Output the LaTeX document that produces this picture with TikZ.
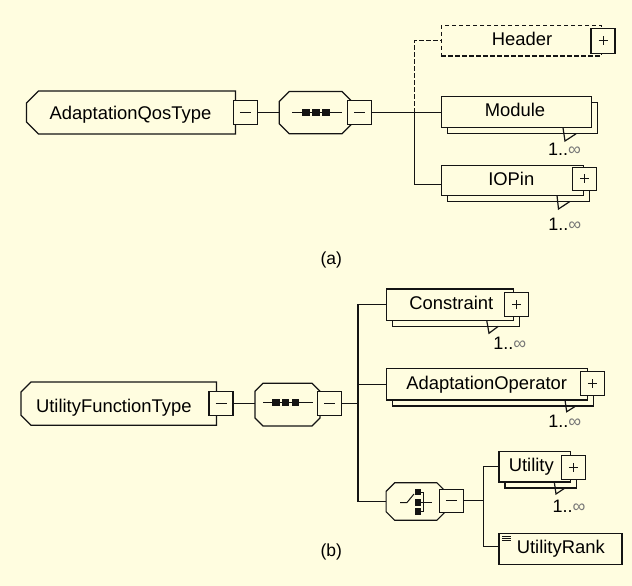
\documentclass[tikz,border=0pt]{standalone}
\usepackage{fontspec}
\setmainfont{Liberation Sans}
\usetikzlibrary{calc}
\definecolor{bg}{RGB}{255,253,224}
\definecolor{ln}{RGB}{20,20,20}
\definecolor{infc}{RGB}{120,120,120}
\newcommand{\plusmark}[1]{\draw[sign] ($(#1.center)+(-4.5,0)$) -- ($(#1.center)+(4.5,0)$) ($(#1.center)+(0,-4.5)$) -- ($(#1.center)+(0,4.5)$);}
\newcommand{\minusmark}[1]{\draw[sign] ($(#1.center)+(-5.5,0)$) -- ($(#1.center)+(5.5,0)$);}
\begin{document}
\begin{tikzpicture}[x=1pt,y=-1pt,
 every node/.style={inner sep=0pt,outer sep=0pt},
 elem/.style={draw=ln,line width=1.2pt,fill=bg},
 rbox/.style 2 args={elem,rectangle,minimum width=#1pt,minimum height=#2pt},
 minusbox/.style={rbox={24}{24}},
 hid/.style 2 args={rectangle,minimum width=#1pt,minimum height=#2pt},
 conn/.style={draw=ln,line width=1.2pt},
 sign/.style={draw=ln,line width=1pt},
 lbl/.style={anchor=base,font=\fontsize{18.4}{22}\selectfont},
 mult/.style={anchor=base west,font=\fontsize{18}{22}\selectfont},
 capt/.style={anchor=base,font=\fontsize{17.5}{21}\selectfont}]
\fill[bg] (0,0) rectangle (632,586);
\useasboundingbox (0,0) rectangle (632,586);

% ---------- (a) ----------
\draw[elem] (26.5,103) -- (38.5,91) -- (235.5,91) -- (235.5,134) -- (38.5,134) -- (26.5,122) -- cycle;
\node[hid={209}{43}] (aqt) at (131,112.5) {};
\node[lbl] (aqtT) at (130.5,119.3) {AdaptationQosType};
\node[minusbox] (aqtM) at (245.3,112.6) {};
\minusmark{aqtM}

\draw[elem] (289.3,91.5) -- (342,91.5) -- (352,101.5) -- (352,123.8) -- (342,133.8) -- (289.3,133.8) -- (279.3,123.8) -- (279.3,101.5) -- cycle;
\node[hid={72.7}{42.3}] (seqA) at (315.65,112.65) {};
\draw[sign] (292,112.6) -- (342,112.6);
\fill[ln] (302.4,108.9) rectangle (309.6,116.1);
\fill[ln] (312.4,108.9) rectangle (319.6,116.1);
\fill[ln] (322.4,108.9) rectangle (329.6,116.1);
\node[minusbox] (seqAM) at (359.5,112.6) {};
\minusmark{seqAM}

% Header
\node[rbox={160}{30.6},dash pattern=on 4.5pt off 2.5pt] (hdr) at (521.4,40.7) {};
\node[rbox={24}{25}] (hdrP) at (603,41) {};
\plusmark{hdrP}
\node[lbl] (hdrT) at (522,46) {Header};

% Module
\node[rbox={150.3}{31}] (modB) at (522.55,118.3) {};
\node[rbox={150.3}{31}] (modF) at (516.55,112.3) {};
\node[lbl] (modT) at (515,116) {Module};
\draw[conn] (563,127.8) -- (565,141) -- (576,133.8);
\node[mult] (modMl) at (548.2,155) {1..\textcolor{infc}{∞}};

% IOPin
\node[rbox={141.8}{29.9}] (ioB) at (518.3,186.45) {};
\node[rbox={141.8}{29.9}] (ioF) at (512.3,180.45) {};
\node[rbox={24}{23}] (ioP) at (584.5,178.6) {};
\plusmark{ioP}
\node[lbl] (ioT) at (511.3,185) {IOPin};
\draw[conn] (557,195.4) -- (558.5,209) -- (570,201.4);
\node[mult] (ioMl) at (548.3,230.7) {1..\textcolor{infc}{∞}};

% connectors (a)
\coordinate (busA) at (414.3,112.6);
\draw[conn] (aqtM.east) -- (seqA.west |- aqtM.east);
\draw[conn] (seqAM.east) -- (modF.west |- seqAM.east);
\draw[conn] (busA) |- ([yshift=-3.9pt]ioF.west);
\draw[conn,dash pattern=on 4.5pt off 2.5pt] (busA) |- (hdr.west);

\node[capt] (capA) at (331.3,264.7) {(a)};

% ---------- (b) ----------
\draw[elem] (21,392) -- (31,382) -- (216.4,382) -- (216.4,425.3) -- (31,425.3) -- (21,415.3) -- cycle;
\node[hid={195.4}{43.3}] (uft) at (118.7,403.65) {};
\node[lbl] (uftT) at (113.8,412.3) {UtilityFunctionType};
\node[minusbox] (uftM) at (221,403.8) {};
\minusmark{uftM}

\draw[elem] (263,383.3) -- (312,383.3) -- (320,391.3) -- (320,418) -- (312,426) -- (263,426) -- (255,418) -- (255,391.3) -- cycle;
\node[hid={65}{42.7}] (seqB) at (287.5,404.65) {};
\draw[sign] (263.3,402.8) -- (313.3,402.8);
\fill[ln] (272.4,399.2) rectangle (279.6,406.4);
\fill[ln] (282.1,399.2) rectangle (289.3,406.4);
\fill[ln] (291.8,399.2) rectangle (299,406.4);
\node[minusbox] (seqBM) at (329.5,403.8) {};
\minusmark{seqBM}

% Constraint
\node[rbox={127}{31.4}] (conB) at (455.6,310.6) {};
\node[rbox={127}{31.4}] (conF) at (449.6,304.6) {};
\node[rbox={24}{24}] (conP) at (516.7,304.7) {};
\plusmark{conP}
\node[lbl] (conT) at (451.3,309.3) {Constraint};
\draw[conn] (486.7,320.3) -- (489,333.3) -- (498.3,326.3);
\node[mult] (conMl) at (493.3,349.3) {1..\textcolor{infc}{∞}};

% AdaptationOperator
\node[rbox={201.2}{31.1}] (aopB) at (492.7,390.35) {};
\node[rbox={201.2}{31.1}] (aopF) at (486.7,384.35) {};
\node[rbox={24}{24}] (aopP) at (592.3,383.8) {};
\plusmark{aopP}
\node[lbl] (aopT) at (486.7,389.3) {AdaptationOperator};
\draw[conn] (565,399.9) -- (566.7,411.7) -- (576,405.9);
\node[mult] (aopMl) at (548.3,427.3) {1..\textcolor{infc}{∞}};

% choice
\draw[elem] (394.6,482.8) -- (436.9,482.8) -- (445.4,491.3) -- (445.4,511.7) -- (436.9,520.2) -- (394.6,520.2) -- (386.1,511.7) -- (386.1,491.3) -- cycle;
\node[hid={59.3}{37.4}] (choice) at (415.75,501.5) {};
\draw[sign] (400,502.5) -- (407,502.5) -- (414,494);
\fill[ln] (414.8,488.8) rectangle (421.2,495.2);
\fill[ln] (414.8,499.4) rectangle (421.2,505.8);
\fill[ln] (414.8,508.2) rectangle (421.2,514.6);
\draw[sign] (421,492.2) -- (423,492.2) -- (423,511.5) -- (421,511.5);
\draw[sign] (421,502.7) -- (431.5,502.7);
\node[rbox={24}{23}] (chM) at (451.3,500.8) {};
\minusmark{chM}

% Utility
\node[rbox={71.3}{30.6}] (utB) at (540.65,472.7) {};
\node[rbox={71.3}{30.6}] (utF) at (534.65,466.7) {};
\node[rbox={24}{24}] (utP) at (573.3,467.6) {};
\plusmark{utP}
\node[lbl] (utT) at (531.3,471.5) {Utility};
\draw[conn] (554.3,482) -- (556,494) -- (565,488);
\node[mult] (utMl) at (552.7,512.7) {1..\textcolor{infc}{∞}};

% UtilityRank
\node[rbox={123}{31}] (urk) at (560.5,548.8) {};
\draw[draw=ln,line width=0.7pt] (502,536) -- (510.5,536) (502,538) -- (510.5,538) (502,540) -- (510.5,540);
\node[lbl] (urkT) at (560.8,553.3) {UtilityRank};

% connectors (b)
\coordinate (busB) at (357.9,403.8);
\coordinate (busC) at (483.7,500.8);
\draw[conn] (uftM.east) -- (seqB.west |- uftM.east);
\draw[conn] (seqBM.east) -- (busB);
\draw[conn] (busB) |- (conF.west);
\draw[conn] (busB) |- (aopF.west);
\draw[conn] (busB) |- (choice.west);
\draw[conn] (chM.east) -- (busC);
\draw[conn] (busC) |- (utF.west);
\draw[conn] (busC) |- ([yshift=2.5pt]urk.west);

\node[capt] (capB) at (331.3,556) {(b)};
\end{tikzpicture}
\end{document}
